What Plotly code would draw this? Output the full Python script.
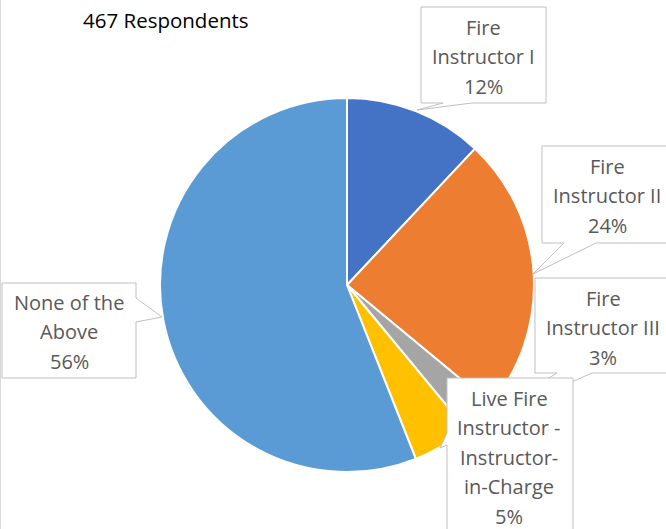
import plotly.graph_objects as go

W, H = 666, 529

# ---- data ----
categories = ["Fire Instructor I", "Fire Instructor II", "Fire Instructor III",
              "Live Fire Instructor - Instructor-in-Charge", "None of the Above"]
percents = [12, 24, 3, 5, 56]
colors = ["#4472C4", "#ED7D31", "#A5A5A5", "#FFC000", "#5B9BD5"]
label_lines = [
    ["Fire", "Instructor I", "12%"],
    ["Fire", "Instructor II", "24%"],
    ["Fire", "Instructor III", "3%"],
    ["Live Fire", "Instructor -", "Instructor-", "in-Charge", "5%"],
    ["None of the", "Above", "56%"],
]
subtitle = "467 Respondents"

FONT = "'Open Sans', Lato, sans-serif"


def px(x):
    return x / W


def py(y):
    return 1 - y / H


# layout: callout geometry (pixels) -> (center_x, first_line_y, polygon)
callouts = [
    (483.5, 27, [(421, 7), (546, 7), (546, 103), (472, 103), (417, 110), (443, 103), (421, 103)]),
    (607, 166, [(542, 146), (668, 146), (668, 243), (596, 243), (533, 274), (564, 243), (542, 243)]),
    (603, 298, [(535, 278), (668, 278), (668, 373), (592, 373), (468, 428), (557, 373), (535, 373)]),
    (509, 398, [(447, 378), (573, 378), (573, 540), (447, 540), (447, 445), (440, 448), (447, 433)]),
    (69, 302, [(2, 283), (136, 283), (136, 298), (162, 317), (136, 322), (136, 378), (2, 378)]),
]
LINE_GAP = 29.5

fig = go.Figure(go.Pie(
    labels=categories,
    values=percents,
    marker=dict(colors=colors, line=dict(color="white", width=2)),
    sort=False,
    direction="clockwise",
    rotation=0,
    textinfo="none",
    hoverinfo="label+percent",
    domain=dict(x=[px(160), px(534)], y=[py(472), py(98)]),
    showlegend=False,
))

shapes = []
annotations = []
for (cx, y0, poly), lines in zip(callouts, label_lines):
    path = "M " + " L ".join(f"{px(x):.5f},{py(y):.5f}" for x, y in poly) + " Z"
    shapes.append(dict(type="path", xref="paper", yref="paper", path=path,
                       fillcolor="white", line=dict(color="#BFBFBF", width=1),
                       layer="above"))
for (cx, y0, poly), lines in zip(callouts, label_lines):
    for i, t in enumerate(lines):
        annotations.append(dict(text=t, x=px(cx), y=py(y0 + i * LINE_GAP),
                                xref="paper", yref="paper", showarrow=False,
                                xanchor="center", yanchor="middle",
                                font=dict(family=FONT, size=20, color="#595959")))

annotations.append(dict(text=subtitle, x=px(165.5), y=py(20), xref="paper", yref="paper",
                        showarrow=False, xanchor="center", yanchor="middle",
                        font=dict(family=FONT, size=20.5, color="#000000")))

# left chart border
shapes.append(dict(type="line", xref="paper", yref="paper", x0=px(0.5), x1=px(0.5),
                   y0=0, y1=1, line=dict(color="#D9D9D9", width=1)))

fig.update_layout(
    width=W, height=H,
    margin=dict(l=0, r=0, t=0, b=0),
    paper_bgcolor="white", plot_bgcolor="white",
    shapes=shapes, annotations=annotations,
)

fig.write_html("out.html", config={"displayModeBar": False},
               post_script="document.body.style.margin='0px';document.body.style.overflow='hidden';")
